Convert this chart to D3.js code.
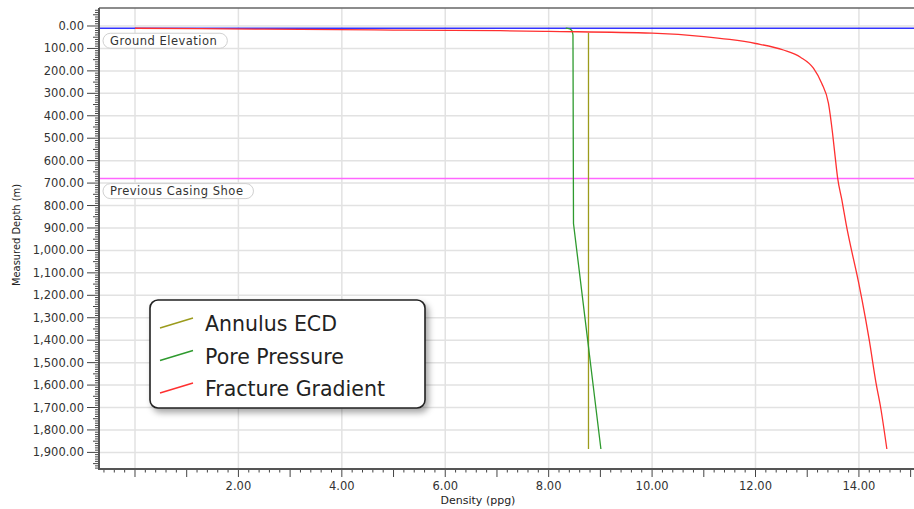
<!DOCTYPE html>
<html>
<head>
<meta charset="utf-8">
<script src="https://cdn.jsdelivr.net/npm/d3@7"></script>
<style>
  body { margin: 0; background: #fff; }
  svg { display: block; font-family: "DejaVu Sans", sans-serif; }
</style>
</head>
<body>
<svg width="914" height="509"></svg>
<script>
// depth in m, density in ppg
const ecdDepth = [30, 1885];
const ecdDensity = [8.77, 8.77];

const poreDepth = [10, 11, 13, 16, 21, 28, 40, 880, 1885];
const poreDensity = [8.33, 8.37, 8.41, 8.43, 8.45, 8.46, 8.47, 8.48, 9.01];

const fracDepth = [10, 14, 18, 21, 24, 32, 47, 60, 78, 107, 139, 188, 255, 344, 478, 582, 680, 775, 880, 1150, 1220, 1400, 1590, 1700, 1885];
const fracDensity = [0, 2.5, 5, 7.06, 8, 10, 11, 11.5, 12, 12.54, 12.87, 13.12, 13.28, 13.41, 13.49, 13.54, 13.59, 13.67, 13.75, 14.0, 14.06, 14.2, 14.33, 14.42, 14.54];

const refNames = ["Ground Elevation", "Previous Casing Shoe"];
const refDepths = [10, 680];

const seriesNames = ["Annulus ECD", "Pore Pressure", "Fracture Gradient"];
const xTickLabels = [2, 4, 6, 8, 10, 12, 14];

const colors = { ecd: "#9b9b1c", pore: "#2e9a2e", frac: "#ff3030" };
const refColors = ["#3333ff", "#ff66ff"];

const svg = d3.select("svg");
const pLeft = 99, pRight = 914, pTop = 8, pBottom = 469;

const x = d3.scaleLinear().domain([-0.696, 15.065]).range([pLeft, pRight]);
const y = d3.scaleLinear().domain([-80.2, 1974]).range([pTop, pBottom]);

const defs = svg.append("defs");
const f = defs.append("filter").attr("id", "shadow").attr("x", "-10%").attr("y", "-10%").attr("width", "130%").attr("height", "140%");
f.append("feDropShadow").attr("dx", 3).attr("dy", 4).attr("stdDeviation", 3).attr("flood-color", "#000").attr("flood-opacity", 0.35);

// gridlines
const grid = svg.append("g");
grid.selectAll(".hg").data(d3.range(0, 1901, 100)).enter().append("line")
  .attr("x1", pLeft).attr("x2", pRight).attr("y1", d => y(d)).attr("y2", d => y(d))
  .attr("stroke", "#e2e2e2").attr("stroke-width", 1.5);
grid.selectAll(".vg").data(d3.range(0, 15, 2)).enter().append("line")
  .attr("x1", d => x(d)).attr("x2", d => x(d)).attr("y1", pTop).attr("y2", pBottom)
  .attr("stroke", "#e2e2e2").attr("stroke-width", 1.5);

// top border
svg.append("line").attr("x1", pLeft).attr("x2", pRight).attr("y1", pTop).attr("y2", pTop)
  .attr("stroke", "#666").attr("stroke-width", 1.5);

// reference lines
svg.selectAll(".ref").data(refDepths).enter().append("line")
  .attr("x1", pLeft).attr("x2", pRight).attr("y1", d => y(d)).attr("y2", d => y(d))
  .attr("stroke", (d, i) => refColors[i]).attr("stroke-width", 1.5);

// series
const lineLin = d3.line().x(d => x(d[0])).y(d => y(d[1]));
const lineSmooth = d3.line().x(d => x(d[0])).y(d => y(d[1])).curve(d3.curveMonotoneX);
const series = [
  { pts: d3.zip(ecdDensity, ecdDepth), color: colors.ecd, gen: lineLin },
  { pts: d3.zip(poreDensity, poreDepth), color: colors.pore, gen: lineLin },
  { pts: d3.zip(fracDensity, fracDepth), color: colors.frac, gen: lineSmooth }
];
svg.selectAll(".series").data(series).enter().append("path")
  .attr("d", d => d.gen(d.pts))
  .attr("fill", "none").attr("stroke", d => d.color).attr("stroke-width", 1.3)
  .attr("stroke-linejoin", "round");

// reference labels
refNames.forEach((name, i) => {
  const g = svg.append("g").attr("transform", `translate(103,${y(refDepths[i]) + 5})`);
  const t = g.append("text").attr("x", 7).attr("y", 11.8).attr("font-size", 11.5)
    .attr("letter-spacing", 0.5).attr("fill", "#333").text(name);
  const w = t.node().getComputedTextLength() + 17;
  g.insert("rect", "text").attr("width", w).attr("height", 15).attr("rx", 7.5)
    .attr("fill", "#fff").attr("stroke", "#d0d0d0");
});

// y axis
const yAxis = svg.append("g");
yAxis.selectAll(".ym").data(d3.range(-70, 1971, 10)).enter().append("line")
  .attr("x1", pLeft).attr("x2", d => pLeft - (d % 100 === 0 ? 12 : d % 50 === 0 ? 6 : 4))
  .attr("y1", d => y(d)).attr("y2", d => y(d))
  .attr("stroke", "#444").attr("stroke-width", 1);
yAxis.selectAll(".yl").data(d3.range(0, 1901, 100)).enter().append("text")
  .attr("x", 84).attr("y", d => y(d)).attr("dy", "0.35em")
  .attr("text-anchor", "end").attr("font-size", 11.5).attr("fill", "#333")
  .text(d => d3.format(",.2f")(d));
svg.append("line").attr("x1", pLeft).attr("x2", pLeft).attr("y1", pTop).attr("y2", pBottom)
  .attr("stroke", "#555").attr("stroke-width", 2);

// x axis
const xAxis = svg.append("g");
xAxis.selectAll(".xm").data(d3.range(-0.6, 15.05, 0.2).map(d => Math.round(d * 10) / 10)).enter().append("line")
  .attr("x1", d => x(d)).attr("x2", d => x(d))
  .attr("y1", pBottom).attr("y2", d => pBottom + (Number.isInteger(d) ? 8 : 3.5))
  .attr("stroke", "#444").attr("stroke-width", 1);
xAxis.selectAll(".xl").data(xTickLabels).enter().append("text")
  .attr("x", d => x(d)).attr("y", 490).attr("text-anchor", "middle")
  .attr("font-size", 11.5).attr("fill", "#333")
  .text(d => d3.format(".2f")(d));
svg.append("line").attr("x1", pLeft - 1).attr("x2", pRight).attr("y1", pBottom).attr("y2", pBottom)
  .attr("stroke", "#555").attr("stroke-width", 2);

// axis titles
svg.append("text").attr("x", 478).attr("y", 504).attr("text-anchor", "middle")
  .attr("font-size", 11).attr("fill", "#222").text("Density (ppg)");
svg.append("text").attr("transform", "translate(20,235) rotate(-90)")
  .attr("text-anchor", "middle").attr("font-size", 11)
  .attr("font-family", "'DejaVu Sans Condensed', 'Liberation Sans Narrow', sans-serif")
  .attr("fill", "#222").text("Measured Depth (m)");

// legend
const lg = svg.append("g").attr("transform", "translate(150,300)");
lg.append("rect").attr("width", 275).attr("height", 108).attr("rx", 8)
  .attr("fill", "#fff").attr("stroke", "#222").attr("stroke-width", 1.6)
  .attr("filter", "url(#shadow)");
const legColors = [colors.ecd, colors.pore, colors.frac];
seriesNames.forEach((name, i) => {
  const cy = 24 + i * 32.5;
  lg.append("line").attr("x1", 10).attr("y1", cy + 4).attr("x2", 43).attr("y2", cy - 6)
    .attr("stroke", legColors[i]).attr("stroke-width", 1.5);
  lg.append("text").attr("x", 55).attr("y", cy).attr("dy", "0.36em")
    .attr("font-size", 20.5).attr("fill", "#222").text(name);
});
</script>
</body>
</html>
